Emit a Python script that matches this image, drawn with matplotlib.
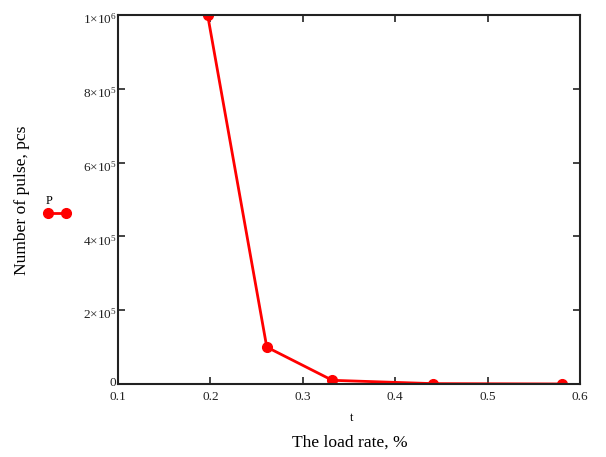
import matplotlib
matplotlib.use("Agg")
import matplotlib.pyplot as plt
import matplotlib.transforms as mtransforms
from matplotlib.lines import Line2D

plt.rcParams['font.family'] = ['Liberation Serif', 'DejaVu Serif']
plt.rcParams['mathtext.fontset'] = 'custom'
plt.rcParams['mathtext.rm'] = 'Liberation Serif'
plt.rcParams['mathtext.it'] = 'Liberation Serif:italic'

load_rate = [0.197, 0.261, 0.332, 0.441, 0.580]
pulses = [1.0e6, 1.0e5, 1.0e4, 1.0e3, 1.0e2]
x_ticks = [0.1, 0.2, 0.3, 0.4, 0.5, 0.6]
x_tick_labels = ['0.1', '0.2', '0.3', '0.4', '0.5', '0.6']
y_ticks = [0, 2e5, 4e5, 6e5, 8e5, 1e6]
y_tick_labels = ['0', r'$2{\times}10^{5}$', r'$4{\times}10^{5}$', r'$6{\times}10^{5}$',
                 r'$8{\times}10^{5}$', r'$1{\times}10^{6}$']

fig = plt.figure(figsize=(6.06, 4.57), dpi=100)
ax = fig.add_axes([118/606, 1-384/457, (580-118)/606, (384-15)/457])

ax.plot(load_rate, pulses, color='#ff0000', lw=2, marker='o', ms=7, clip_on=True)

ax.set_xlim(0.1, 0.6)
ax.set_ylim(0, 1e6)
ax.set_xticks(x_ticks)
ax.set_xticklabels(x_tick_labels)
ax.set_yticks(y_ticks)
ax.set_yticklabels(y_tick_labels)
ax.tick_params(direction='in', length=5, width=1.2, top=True, right=True,
               labelsize=9.5, colors='#222222')
ax.tick_params(axis='y', pad=1)
ax.tick_params(axis='x', pad=5)
for s in ax.spines.values():
    s.set_linewidth(1.5)
    s.set_color('#222222')

# shift y tick labels slightly down (superscript sits above the tick)
offset = mtransforms.ScaledTranslation(0, -3/100, fig.dpi_scale_trans)
for i, lab in enumerate(ax.get_yticklabels()):
    if i == 0:
        lab.set_transform(lab.get_transform() + mtransforms.ScaledTranslation(0, 3/100, fig.dpi_scale_trans))
    else:
        lab.set_transform(lab.get_transform() + offset)

fig.text(352/606, 1-418/457, 't', fontsize=9, ha='center', va='center')
fig.text(350/606, 1-443/457, 'The load rate, %', fontsize=12.6, ha='center', va='center')
fig.text(22/606, 1-200/457, 'Number of pulse, pcs', fontsize=12.6, rotation=90,
         ha='center', va='center')
fig.text(49/606, 1-201/457, 'P', fontsize=9, ha='center', va='center')
fig.add_artist(Line2D([48/606, 66/606], [1-213/457, 1-213/457], color='#ff0000',
                      lw=2, marker='o', ms=7, transform=fig.transFigure))

fig.savefig('out.png', dpi=100)
